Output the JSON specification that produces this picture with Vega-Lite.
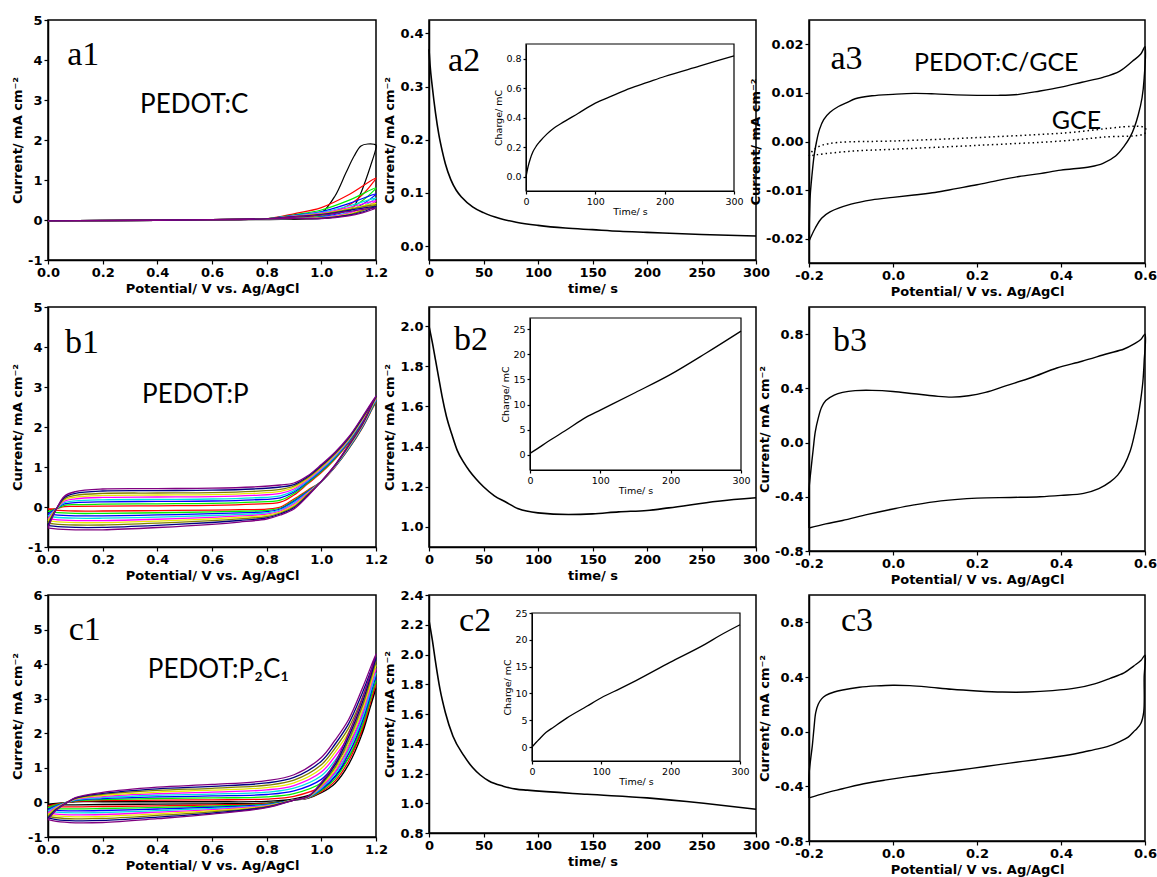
{
"$schema": "https://vega.github.io/schema/vega-lite/v6.json",
"background": "white",
"padding": {"left": 10, "top": 13, "right": 2, "bottom": 2},
"columns": 3,
"spacing": {"row": 44, "column": 53},
"bounds": "flush",
"align": "each",
"datasets": {
"a1": [
{"k":0,"x":0,"y":-0.02},{"k":0,"x":0.4,"y":-0.01},{"k":0,"x":0.7,"y":0.01},{"k":0,"x":0.8,"y":0.02},{"k":0,"x":0.9,"y":0.05},{"k":0,"x":0.95,"y":0.09},{"k":0,"x":1,"y":0.17},{"k":0,"x":1.05,"y":0.6},{"k":0,"x":1.09,"y":1.18},{"k":0,"x":1.12,"y":1.6},{"k":0,"x":1.145,"y":1.85},{"k":0,"x":1.17,"y":1.9},{"k":0,"x":1.2,"y":1.87},{"k":0,"x":1.2,"y":1.8},{"k":0,"x":1.18,"y":1.35},{"k":0,"x":1.16,"y":0.95},{"k":0,"x":1.14,"y":0.6},{"k":0,"x":1.12,"y":0.35},{"k":0,"x":1.1,"y":0.2},{"k":0,"x":1.05,"y":0.08},{"k":0,"x":1,"y":0.04},{"k":0,"x":0.8,"y":0.01},{"k":0,"x":0.4,"y":-0.01},{"k":0,"x":0,"y":-0.02},
{"k":1,"x":0,"y":-0.02},{"k":1,"x":0.4,"y":-0.01},{"k":1,"x":0.7,"y":0.01},{"k":1,"x":0.8,"y":0.03},{"k":1,"x":0.9,"y":0.155},{"k":1,"x":1,"y":0.31},{"k":1,"x":1.1,"y":0.63},{"k":1,"x":1.2,"y":1.05},{"k":1,"x":1.19,"y":0.945},{"k":1,"x":1.15,"y":0.63},{"k":1,"x":1.1,"y":0.37},{"k":1,"x":1,"y":0.126},{"k":1,"x":0.9,"y":0.04},{"k":1,"x":0.6,"y":0.01},{"k":1,"x":0,"y":-0.02},
{"k":2,"x":0,"y":-0.02},{"k":2,"x":0.4,"y":-0.01},{"k":2,"x":0.7,"y":0.01},{"k":2,"x":0.8,"y":0.03},{"k":2,"x":0.9,"y":0.13},{"k":2,"x":1,"y":0.25},{"k":2,"x":1.1,"y":0.49},{"k":2,"x":1.2,"y":0.8},{"k":2,"x":1.19,"y":0.72},{"k":2,"x":1.15,"y":0.48},{"k":2,"x":1.1,"y":0.28},{"k":2,"x":1,"y":0.096},{"k":2,"x":0.9,"y":0.04},{"k":2,"x":0.6,"y":0.01},{"k":2,"x":0,"y":-0.02},
{"k":3,"x":0,"y":-0.02},{"k":3,"x":0.4,"y":-0.01},{"k":3,"x":0.7,"y":0.01},{"k":3,"x":0.8,"y":0.03},{"k":3,"x":0.9,"y":0.115},{"k":3,"x":1,"y":0.21},{"k":3,"x":1.1,"y":0.41},{"k":3,"x":1.2,"y":0.65},{"k":3,"x":1.19,"y":0.585},{"k":3,"x":1.15,"y":0.39},{"k":3,"x":1.1,"y":0.23},{"k":3,"x":1,"y":0.078},{"k":3,"x":0.9,"y":0.04},{"k":3,"x":0.6,"y":0.01},{"k":3,"x":0,"y":-0.02},
{"k":4,"x":0,"y":-0.02},{"k":4,"x":0.4,"y":-0.01},{"k":4,"x":0.7,"y":0.01},{"k":4,"x":0.8,"y":0.03},{"k":4,"x":0.9,"y":0.105},{"k":4,"x":1,"y":0.19},{"k":4,"x":1.1,"y":0.35},{"k":4,"x":1.2,"y":0.55},{"k":4,"x":1.19,"y":0.5},{"k":4,"x":1.15,"y":0.33},{"k":4,"x":1.1,"y":0.19},{"k":4,"x":1,"y":0.066},{"k":4,"x":0.9,"y":0.04},{"k":4,"x":0.6,"y":0.01},{"k":4,"x":0,"y":-0.02},
{"k":5,"x":0,"y":-0.02},{"k":5,"x":0.4,"y":-0.01},{"k":5,"x":0.7,"y":0.01},{"k":5,"x":0.8,"y":0.03},{"k":5,"x":0.9,"y":0.098},{"k":5,"x":1,"y":0.17},{"k":5,"x":1.1,"y":0.31},{"k":5,"x":1.2,"y":0.48},{"k":5,"x":1.19,"y":0.43},{"k":5,"x":1.15,"y":0.29},{"k":5,"x":1.1,"y":0.17},{"k":5,"x":1,"y":0.058},{"k":5,"x":0.9,"y":0.04},{"k":5,"x":0.6,"y":0.01},{"k":5,"x":0,"y":-0.02},
{"k":6,"x":0,"y":-0.02},{"k":6,"x":0.4,"y":-0.01},{"k":6,"x":0.7,"y":0.01},{"k":6,"x":0.8,"y":0.03},{"k":6,"x":0.9,"y":0.092},{"k":6,"x":1,"y":0.155},{"k":6,"x":1.1,"y":0.28},{"k":6,"x":1.2,"y":0.42},{"k":6,"x":1.19,"y":0.38},{"k":6,"x":1.15,"y":0.25},{"k":6,"x":1.1,"y":0.15},{"k":6,"x":1,"y":0.05},{"k":6,"x":0.9,"y":0.04},{"k":6,"x":0.6,"y":0.01},{"k":6,"x":0,"y":-0.02},
{"k":7,"x":0,"y":-0.02},{"k":7,"x":0.4,"y":-0.01},{"k":7,"x":0.7,"y":0.01},{"k":7,"x":0.8,"y":0.03},{"k":7,"x":0.9,"y":0.088},{"k":7,"x":1,"y":0.145},{"k":7,"x":1.1,"y":0.26},{"k":7,"x":1.2,"y":0.38},{"k":7,"x":1.19,"y":0.34},{"k":7,"x":1.15,"y":0.23},{"k":7,"x":1.1,"y":0.13},{"k":7,"x":1,"y":0.046},{"k":7,"x":0.9,"y":0.04},{"k":7,"x":0.6,"y":0.01},{"k":7,"x":0,"y":-0.02},
{"k":8,"x":0,"y":-0.02},{"k":8,"x":0.4,"y":-0.01},{"k":8,"x":0.7,"y":0.01},{"k":8,"x":0.8,"y":0.03},{"k":8,"x":0.9,"y":0.084},{"k":8,"x":1,"y":0.135},{"k":8,"x":1.1,"y":0.24},{"k":8,"x":1.2,"y":0.34},{"k":8,"x":1.19,"y":0.31},{"k":8,"x":1.15,"y":0.2},{"k":8,"x":1.1,"y":0.12},{"k":8,"x":1,"y":0.041},{"k":8,"x":0.9,"y":0.04},{"k":8,"x":0.6,"y":0.01},{"k":8,"x":0,"y":-0.02},
{"k":9,"x":0,"y":-0.02},{"k":9,"x":0.4,"y":-0.01},{"k":9,"x":0.7,"y":0.01},{"k":9,"x":0.8,"y":0.03},{"k":9,"x":0.9,"y":0.08},{"k":9,"x":1,"y":0.125},{"k":9,"x":1.1,"y":0.215},{"k":9,"x":1.2,"y":0.3},{"k":9,"x":1.19,"y":0.27},{"k":9,"x":1.15,"y":0.18},{"k":9,"x":1.1,"y":0.105},{"k":9,"x":1,"y":0.036},{"k":9,"x":0.9,"y":0.04},{"k":9,"x":0.6,"y":0.01},{"k":9,"x":0,"y":-0.02}
],
"a2": [
{"x":0,"y":0.37},{"x":1,"y":0.34},{"x":3,"y":0.3},{"x":6,"y":0.25},{"x":9,"y":0.21},{"x":12,"y":0.18},{"x":15,"y":0.155},{"x":20,"y":0.125},{"x":25,"y":0.105},{"x":30,"y":0.092},{"x":40,"y":0.074},{"x":50,"y":0.063},{"x":65,"y":0.052},{"x":80,"y":0.045},{"x":100,"y":0.039},{"x":125,"y":0.034},{"x":150,"y":0.031},{"x":175,"y":0.028},{"x":200,"y":0.026},{"x":250,"y":0.022},{"x":300,"y":0.019}
],
"a2i": [
{"x":0,"y":0},{"x":3,"y":0.07},{"x":6,"y":0.12},{"x":10,"y":0.17},{"x":15,"y":0.21},{"x":20,"y":0.24},{"x":30,"y":0.29},{"x":40,"y":0.33},{"x":50,"y":0.36},{"x":75,"y":0.43},{"x":100,"y":0.5},{"x":125,"y":0.55},{"x":150,"y":0.6},{"x":175,"y":0.64},{"x":200,"y":0.68},{"x":250,"y":0.75},{"x":300,"y":0.82}
],
"a3s": [
{"x":-0.2,"y":-0.0205},{"x":-0.199,"y":-0.016},{"x":-0.197,"y":-0.011},{"x":-0.193,"y":-0.007},{"x":-0.188,"y":-0.003},{"x":-0.182,"y":0},{"x":-0.175,"y":0.0025},{"x":-0.165,"y":0.0045},{"x":-0.15,"y":0.006},{"x":-0.13,"y":0.0072},{"x":-0.11,"y":0.008},{"x":-0.09,"y":0.0088},{"x":-0.05,"y":0.0094},{"x":0,"y":0.0097},{"x":0.05,"y":0.0099},{"x":0.1,"y":0.0098},{"x":0.15,"y":0.0096},{"x":0.2,"y":0.0095},{"x":0.25,"y":0.0095},{"x":0.3,"y":0.0097},{"x":0.35,"y":0.0104},{"x":0.4,"y":0.0112},{"x":0.45,"y":0.0122},{"x":0.5,"y":0.0132},{"x":0.54,"y":0.0145},{"x":0.57,"y":0.0165},{"x":0.59,"y":0.018},{"x":0.6,"y":0.0195},
{"x":0.598,"y":0.013},{"x":0.593,"y":0.009},{"x":0.584,"y":0.0055},{"x":0.575,"y":0.003},{"x":0.565,"y":0.001},{"x":0.55,"y":-0.001},{"x":0.53,"y":-0.003},{"x":0.5,"y":-0.0045},{"x":0.47,"y":-0.0052},{"x":0.4,"y":-0.0059},{"x":0.35,"y":-0.0066},{"x":0.3,"y":-0.0072},{"x":0.25,"y":-0.008},{"x":0.2,"y":-0.0089},{"x":0.15,"y":-0.0097},{"x":0.1,"y":-0.0105},{"x":0.05,"y":-0.011},{"x":0,"y":-0.0115},{"x":-0.05,"y":-0.012},{"x":-0.1,"y":-0.0129},{"x":-0.15,"y":-0.0145},{"x":-0.17,"y":-0.0158},{"x":-0.185,"y":-0.0178},{"x":-0.2,"y":-0.0205}
],
"a3g": [
{"x":-0.2,"y":-0.003},{"x":-0.19,"y":-0.0018},{"x":-0.17,"y":-0.0008},{"x":-0.13,"y":-0.0002},{"x":0,"y":0.0001},{"x":0.2,"y":0.0008},{"x":0.4,"y":0.0017},{"x":0.6,"y":0.0028},{"x":0.6,"y":0.0017},{"x":0.5,"y":0.0009},{"x":0.4,"y":0.0001},{"x":0.2,"y":-0.0008},{"x":0,"y":-0.0016},{"x":-0.1,"y":-0.002},{"x":-0.18,"y":-0.0027},{"x":-0.2,"y":-0.003}
],
"b1": [
{"k":1,"x":0,"y":-0.05},{"k":1,"x":0.03,"y":-0.04},{"k":1,"x":0.06,"y":0.012},{"k":1,"x":0.1,"y":0.017},{"k":1,"x":0.2,"y":0.02},{"k":1,"x":0.4,"y":0.03},{"k":1,"x":0.6,"y":0.04},{"k":1,"x":0.75,"y":0.07},{"k":1,"x":0.85,"y":0.12},{"k":1,"x":0.9,"y":0.3},{"k":1,"x":0.95,"y":0.58},{"k":1,"x":1,"y":0.86},{"k":1,"x":1.05,"y":1.2},{"k":1,"x":1.1,"y":1.6},{"k":1,"x":1.15,"y":2.1},{"k":1,"x":1.2,"y":2.62},{"k":1,"x":1.19,"y":2.5},{"k":1,"x":1.15,"y":1.98},{"k":1,"x":1.1,"y":1.45},{"k":1,"x":1.05,"y":1},{"k":1,"x":1,"y":0.64},{"k":1,"x":0.95,"y":0.42},{"k":1,"x":0.9,"y":0.2},{"k":1,"x":0.85,"y":0},{"k":1,"x":0.8,"y":-0.053},{"k":1,"x":0.7,"y":-0.066},{"k":1,"x":0.6,"y":-0.076},{"k":1,"x":0.4,"y":-0.09},{"k":1,"x":0.2,"y":-0.1},{"k":1,"x":0.1,"y":-0.1},{"k":1,"x":0.02,"y":-0.07},{"k":1,"x":0,"y":-0.05},
{"k":2,"x":0,"y":-0.11},{"k":2,"x":0.03,"y":-0.045},{"k":2,"x":0.06,"y":0.042},{"k":2,"x":0.1,"y":0.06},{"k":2,"x":0.2,"y":0.07},{"k":2,"x":0.4,"y":0.08},{"k":2,"x":0.6,"y":0.09},{"k":2,"x":0.75,"y":0.12},{"k":2,"x":0.85,"y":0.17},{"k":2,"x":0.9,"y":0.34},{"k":2,"x":0.95,"y":0.605},{"k":2,"x":1,"y":0.885},{"k":2,"x":1.05,"y":1.22},{"k":2,"x":1.1,"y":1.62},{"k":2,"x":1.15,"y":2.12},{"k":2,"x":1.2,"y":2.64},{"k":2,"x":1.19,"y":2.52},{"k":2,"x":1.15,"y":1.99},{"k":2,"x":1.1,"y":1.46},{"k":2,"x":1.05,"y":1.01},{"k":2,"x":1,"y":0.64},{"k":2,"x":0.95,"y":0.4},{"k":2,"x":0.9,"y":0.17},{"k":2,"x":0.85,"y":-0.025},{"k":2,"x":0.8,"y":-0.085},{"k":2,"x":0.7,"y":-0.106},{"k":2,"x":0.6,"y":-0.122},{"k":2,"x":0.4,"y":-0.144},{"k":2,"x":0.2,"y":-0.16},{"k":2,"x":0.1,"y":-0.16},{"k":2,"x":0.02,"y":-0.13},{"k":2,"x":0,"y":-0.11},
{"k":3,"x":0,"y":-0.17},{"k":3,"x":0.03,"y":-0.045},{"k":3,"x":0.06,"y":0.078},{"k":3,"x":0.1,"y":0.11},{"k":3,"x":0.2,"y":0.13},{"k":3,"x":0.4,"y":0.14},{"k":3,"x":0.6,"y":0.15},{"k":3,"x":0.75,"y":0.18},{"k":3,"x":0.85,"y":0.23},{"k":3,"x":0.9,"y":0.375},{"k":3,"x":0.95,"y":0.63},{"k":3,"x":1,"y":0.91},{"k":3,"x":1.05,"y":1.24},{"k":3,"x":1.1,"y":1.64},{"k":3,"x":1.15,"y":2.14},{"k":3,"x":1.2,"y":2.66},{"k":3,"x":1.19,"y":2.54},{"k":3,"x":1.15,"y":2},{"k":3,"x":1.1,"y":1.47},{"k":3,"x":1.05,"y":1.01},{"k":3,"x":1,"y":0.64},{"k":3,"x":0.95,"y":0.38},{"k":3,"x":0.9,"y":0.14},{"k":3,"x":0.85,"y":-0.05},{"k":3,"x":0.8,"y":-0.117},{"k":3,"x":0.7,"y":-0.145},{"k":3,"x":0.6,"y":-0.167},{"k":3,"x":0.4,"y":-0.198},{"k":3,"x":0.2,"y":-0.22},{"k":3,"x":0.1,"y":-0.22},{"k":3,"x":0.02,"y":-0.19},{"k":3,"x":0,"y":-0.17},
{"k":4,"x":0,"y":-0.23},{"k":4,"x":0.03,"y":-0.05},{"k":4,"x":0.06,"y":0.108},{"k":4,"x":0.1,"y":0.153},{"k":4,"x":0.2,"y":0.18},{"k":4,"x":0.4,"y":0.19},{"k":4,"x":0.6,"y":0.2},{"k":4,"x":0.75,"y":0.23},{"k":4,"x":0.85,"y":0.28},{"k":4,"x":0.9,"y":0.41},{"k":4,"x":0.95,"y":0.655},{"k":4,"x":1,"y":0.935},{"k":4,"x":1.05,"y":1.26},{"k":4,"x":1.1,"y":1.66},{"k":4,"x":1.15,"y":2.16},{"k":4,"x":1.2,"y":2.68},{"k":4,"x":1.19,"y":2.56},{"k":4,"x":1.15,"y":2.02},{"k":4,"x":1.1,"y":1.49},{"k":4,"x":1.05,"y":1.02},{"k":4,"x":1,"y":0.64},{"k":4,"x":0.95,"y":0.36},{"k":4,"x":0.9,"y":0.11},{"k":4,"x":0.85,"y":-0.075},{"k":4,"x":0.8,"y":-0.148},{"k":4,"x":0.7,"y":-0.185},{"k":4,"x":0.6,"y":-0.213},{"k":4,"x":0.4,"y":-0.252},{"k":4,"x":0.2,"y":-0.28},{"k":4,"x":0.1,"y":-0.28},{"k":4,"x":0.02,"y":-0.25},{"k":4,"x":0,"y":-0.23},
{"k":5,"x":0,"y":-0.29},{"k":5,"x":0.03,"y":-0.05},{"k":5,"x":0.06,"y":0.144},{"k":5,"x":0.1,"y":0.204},{"k":5,"x":0.2,"y":0.24},{"k":5,"x":0.4,"y":0.25},{"k":5,"x":0.6,"y":0.26},{"k":5,"x":0.75,"y":0.29},{"k":5,"x":0.85,"y":0.34},{"k":5,"x":0.9,"y":0.45},{"k":5,"x":0.95,"y":0.68},{"k":5,"x":1,"y":0.96},{"k":5,"x":1.05,"y":1.29},{"k":5,"x":1.1,"y":1.68},{"k":5,"x":1.15,"y":2.18},{"k":5,"x":1.2,"y":2.7},{"k":5,"x":1.19,"y":2.58},{"k":5,"x":1.15,"y":2.03},{"k":5,"x":1.1,"y":1.5},{"k":5,"x":1.05,"y":1.03},{"k":5,"x":1,"y":0.64},{"k":5,"x":0.95,"y":0.35},{"k":5,"x":0.9,"y":0.075},{"k":5,"x":0.85,"y":-0.1},{"k":5,"x":0.8,"y":-0.18},{"k":5,"x":0.7,"y":-0.224},{"k":5,"x":0.6,"y":-0.258},{"k":5,"x":0.4,"y":-0.306},{"k":5,"x":0.2,"y":-0.34},{"k":5,"x":0.1,"y":-0.34},{"k":5,"x":0.02,"y":-0.31},{"k":5,"x":0,"y":-0.29},
{"k":6,"x":0,"y":-0.34},{"k":6,"x":0.03,"y":-0.05},{"k":6,"x":0.06,"y":0.174},{"k":6,"x":0.1,"y":0.247},{"k":6,"x":0.2,"y":0.29},{"k":6,"x":0.4,"y":0.3},{"k":6,"x":0.6,"y":0.31},{"k":6,"x":0.75,"y":0.34},{"k":6,"x":0.85,"y":0.39},{"k":6,"x":0.9,"y":0.49},{"k":6,"x":0.95,"y":0.705},{"k":6,"x":1,"y":0.985},{"k":6,"x":1.05,"y":1.31},{"k":6,"x":1.1,"y":1.69},{"k":6,"x":1.15,"y":2.19},{"k":6,"x":1.2,"y":2.72},{"k":6,"x":1.19,"y":2.59},{"k":6,"x":1.15,"y":2.04},{"k":6,"x":1.1,"y":1.51},{"k":6,"x":1.05,"y":1.03},{"k":6,"x":1,"y":0.64},{"k":6,"x":0.95,"y":0.33},{"k":6,"x":0.9,"y":0.045},{"k":6,"x":0.85,"y":-0.125},{"k":6,"x":0.8,"y":-0.207},{"k":6,"x":0.7,"y":-0.257},{"k":6,"x":0.6,"y":-0.296},{"k":6,"x":0.4,"y":-0.351},{"k":6,"x":0.2,"y":-0.39},{"k":6,"x":0.1,"y":-0.39},{"k":6,"x":0.02,"y":-0.36},{"k":6,"x":0,"y":-0.34},
{"k":7,"x":0,"y":-0.4},{"k":7,"x":0.03,"y":-0.055},{"k":7,"x":0.06,"y":0.204},{"k":7,"x":0.1,"y":0.289},{"k":7,"x":0.2,"y":0.34},{"k":7,"x":0.4,"y":0.35},{"k":7,"x":0.6,"y":0.36},{"k":7,"x":0.75,"y":0.39},{"k":7,"x":0.85,"y":0.44},{"k":7,"x":0.9,"y":0.525},{"k":7,"x":0.95,"y":0.73},{"k":7,"x":1,"y":1.01},{"k":7,"x":1.05,"y":1.33},{"k":7,"x":1.1,"y":1.71},{"k":7,"x":1.15,"y":2.21},{"k":7,"x":1.2,"y":2.74},{"k":7,"x":1.19,"y":2.61},{"k":7,"x":1.15,"y":2.06},{"k":7,"x":1.1,"y":1.53},{"k":7,"x":1.05,"y":1.04},{"k":7,"x":1,"y":0.64},{"k":7,"x":0.95,"y":0.31},{"k":7,"x":0.9,"y":0.01},{"k":7,"x":0.85,"y":-0.15},{"k":7,"x":0.8,"y":-0.239},{"k":7,"x":0.7,"y":-0.297},{"k":7,"x":0.6,"y":-0.342},{"k":7,"x":0.4,"y":-0.405},{"k":7,"x":0.2,"y":-0.45},{"k":7,"x":0.1,"y":-0.45},{"k":7,"x":0.02,"y":-0.42},{"k":7,"x":0,"y":-0.4},
{"k":8,"x":0,"y":-0.46},{"k":8,"x":0.03,"y":-0.055},{"k":8,"x":0.06,"y":0.24},{"k":8,"x":0.1,"y":0.34},{"k":8,"x":0.2,"y":0.4},{"k":8,"x":0.4,"y":0.41},{"k":8,"x":0.6,"y":0.42},{"k":8,"x":0.75,"y":0.45},{"k":8,"x":0.85,"y":0.5},{"k":8,"x":0.9,"y":0.56},{"k":8,"x":0.95,"y":0.755},{"k":8,"x":1,"y":1.035},{"k":8,"x":1.05,"y":1.35},{"k":8,"x":1.1,"y":1.73},{"k":8,"x":1.15,"y":2.23},{"k":8,"x":1.2,"y":2.76},{"k":8,"x":1.19,"y":2.63},{"k":8,"x":1.15,"y":2.07},{"k":8,"x":1.1,"y":1.54},{"k":8,"x":1.05,"y":1.04},{"k":8,"x":1,"y":0.64},{"k":8,"x":0.95,"y":0.29},{"k":8,"x":0.9,"y":-0.02},{"k":8,"x":0.85,"y":-0.175},{"k":8,"x":0.8,"y":-0.27},{"k":8,"x":0.7,"y":-0.337},{"k":8,"x":0.6,"y":-0.388},{"k":8,"x":0.4,"y":-0.459},{"k":8,"x":0.2,"y":-0.51},{"k":8,"x":0.1,"y":-0.51},{"k":8,"x":0.02,"y":-0.48},{"k":8,"x":0,"y":-0.46},
{"k":9,"x":0,"y":-0.52},{"k":9,"x":0.03,"y":-0.06},{"k":9,"x":0.06,"y":0.27},{"k":9,"x":0.1,"y":0.383},{"k":9,"x":0.2,"y":0.45},{"k":9,"x":0.4,"y":0.46},{"k":9,"x":0.6,"y":0.47},{"k":9,"x":0.75,"y":0.5},{"k":9,"x":0.85,"y":0.55},{"k":9,"x":0.9,"y":0.6},{"k":9,"x":0.95,"y":0.78},{"k":9,"x":1,"y":1.06},{"k":9,"x":1.05,"y":1.37},{"k":9,"x":1.1,"y":1.75},{"k":9,"x":1.15,"y":2.25},{"k":9,"x":1.2,"y":2.78},{"k":9,"x":1.19,"y":2.65},{"k":9,"x":1.15,"y":2.08},{"k":9,"x":1.1,"y":1.55},{"k":9,"x":1.05,"y":1.05},{"k":9,"x":1,"y":0.64},{"k":9,"x":0.95,"y":0.27},{"k":9,"x":0.9,"y":-0.05},{"k":9,"x":0.85,"y":-0.2},{"k":9,"x":0.8,"y":-0.3},{"k":9,"x":0.7,"y":-0.376},{"k":9,"x":0.6,"y":-0.433},{"k":9,"x":0.4,"y":-0.513},{"k":9,"x":0.2,"y":-0.57},{"k":9,"x":0.1,"y":-0.57},{"k":9,"x":0.02,"y":-0.54},{"k":9,"x":0,"y":-0.52}
],
"b2": [
{"x":0,"y":2},{"x":3,"y":1.92},{"x":6,"y":1.83},{"x":9,"y":1.74},{"x":12,"y":1.65},{"x":16,"y":1.55},{"x":21,"y":1.46},{"x":26,"y":1.38},{"x":32,"y":1.32},{"x":37,"y":1.28},{"x":43,"y":1.24},{"x":50,"y":1.2},{"x":60,"y":1.155},{"x":70,"y":1.125},{"x":82,"y":1.09},{"x":100,"y":1.07},{"x":128,"y":1.062},{"x":150,"y":1.065},{"x":174,"y":1.075},{"x":200,"y":1.082},{"x":220,"y":1.095},{"x":265,"y":1.128},{"x":300,"y":1.145}
],
"b2i": [
{"x":0,"y":0.3},{"x":10,"y":1.2},{"x":25,"y":2.6},{"x":50,"y":4.8},{"x":80,"y":7.5},{"x":100,"y":8.9},{"x":150,"y":12.4},{"x":200,"y":16},{"x":250,"y":20.2},{"x":300,"y":24.6}
],
"b3": [
{"x":-0.2,"y":-0.63},{"x":-0.2,"y":-0.35},{"x":-0.196,"y":-0.22},{"x":-0.19,"y":-0.05},{"x":-0.185,"y":0.08},{"x":-0.178,"y":0.18},{"x":-0.17,"y":0.26},{"x":-0.16,"y":0.31},{"x":-0.14,"y":0.35},{"x":-0.12,"y":0.37},{"x":-0.09,"y":0.383},{"x":-0.05,"y":0.385},{"x":0,"y":0.377},{"x":0.05,"y":0.36},{"x":0.1,"y":0.343},{"x":0.14,"y":0.335},{"x":0.18,"y":0.345},{"x":0.22,"y":0.37},{"x":0.27,"y":0.42},{"x":0.33,"y":0.48},{"x":0.39,"y":0.55},{"x":0.45,"y":0.6},{"x":0.51,"y":0.655},{"x":0.55,"y":0.69},{"x":0.575,"y":0.73},{"x":0.59,"y":0.76},{"x":0.6,"y":0.8},
{"x":0.598,"y":0.6},{"x":0.595,"y":0.45},{"x":0.59,"y":0.32},{"x":0.583,"y":0.18},{"x":0.575,"y":0.06},{"x":0.565,"y":-0.06},{"x":0.55,"y":-0.17},{"x":0.535,"y":-0.24},{"x":0.517,"y":-0.29},{"x":0.49,"y":-0.34},{"x":0.454,"y":-0.375},{"x":0.4,"y":-0.39},{"x":0.35,"y":-0.4},{"x":0.28,"y":-0.405},{"x":0.2,"y":-0.41},{"x":0.114,"y":-0.43},{"x":0.05,"y":-0.46},{"x":0,"y":-0.49},{"x":-0.06,"y":-0.53},{"x":-0.12,"y":-0.575},{"x":-0.16,"y":-0.6},{"x":-0.2,"y":-0.63}
],
"c1": [
{"k":0,"x":0,"y":-0.05},{"k":0,"x":0.03,"y":-0.03},{"k":0,"x":0.07,"y":0},{"k":0,"x":0.1,"y":0.02},{"k":0,"x":0.2,"y":0.02},{"k":0,"x":0.4,"y":0.02},{"k":0,"x":0.6,"y":0.02},{"k":0,"x":0.8,"y":0.03},{"k":0,"x":0.9,"y":0.1},{"k":0,"x":1,"y":0.35},{"k":0,"x":1.05,"y":0.75},{"k":0,"x":1.1,"y":1.3},{"k":0,"x":1.15,"y":2.1},{"k":0,"x":1.2,"y":3.3},{"k":0,"x":1.195,"y":3.2},{"k":0,"x":1.15,"y":2},{"k":0,"x":1.1,"y":1.1},{"k":0,"x":1.05,"y":0.55},{"k":0,"x":1,"y":0.28},{"k":0,"x":0.95,"y":0.12},{"k":0,"x":0.9,"y":0.07},{"k":0,"x":0.8,"y":-0.02},{"k":0,"x":0.6,"y":-0.04},{"k":0,"x":0.4,"y":-0.05},{"k":0,"x":0.2,"y":-0.06},{"k":0,"x":0.1,"y":-0.07},{"k":0,"x":0.03,"y":-0.07},{"k":0,"x":0,"y":-0.05},
{"k":1,"x":0,"y":-0.1},{"k":1,"x":0.03,"y":-0.052},{"k":1,"x":0.07,"y":0},{"k":1,"x":0.1,"y":0.033},{"k":1,"x":0.2,"y":0.05},{"k":1,"x":0.4,"y":0.067},{"k":1,"x":0.6,"y":0.076},{"k":1,"x":0.8,"y":0.097},{"k":1,"x":0.9,"y":0.178},{"k":1,"x":1,"y":0.456},{"k":1,"x":1.05,"y":0.867},{"k":1,"x":1.1,"y":1.422},{"k":1,"x":1.15,"y":2.233},{"k":1,"x":1.2,"y":3.41},{"k":1,"x":1.195,"y":3.31},{"k":1,"x":1.15,"y":2.11},{"k":1,"x":1.1,"y":1.2},{"k":1,"x":1.05,"y":0.617},{"k":1,"x":1,"y":0.313},{"k":1,"x":0.95,"y":0.126},{"k":1,"x":0.9,"y":0.07},{"k":1,"x":0.8,"y":-0.034},{"k":1,"x":0.6,"y":-0.073},{"k":1,"x":0.4,"y":-0.097},{"k":1,"x":0.2,"y":-0.118},{"k":1,"x":0.1,"y":-0.128},{"k":1,"x":0.03,"y":-0.123},{"k":1,"x":0,"y":-0.1},
{"k":2,"x":0,"y":-0.15},{"k":2,"x":0.03,"y":-0.074},{"k":2,"x":0.07,"y":0},{"k":2,"x":0.1,"y":0.047},{"k":2,"x":0.2,"y":0.08},{"k":2,"x":0.4,"y":0.113},{"k":2,"x":0.6,"y":0.131},{"k":2,"x":0.8,"y":0.163},{"k":2,"x":0.9,"y":0.256},{"k":2,"x":1,"y":0.561},{"k":2,"x":1.05,"y":0.983},{"k":2,"x":1.1,"y":1.544},{"k":2,"x":1.15,"y":2.367},{"k":2,"x":1.2,"y":3.52},{"k":2,"x":1.195,"y":3.41},{"k":2,"x":1.15,"y":2.22},{"k":2,"x":1.1,"y":1.3},{"k":2,"x":1.05,"y":0.683},{"k":2,"x":1,"y":0.347},{"k":2,"x":0.95,"y":0.131},{"k":2,"x":0.9,"y":0.07},{"k":2,"x":0.8,"y":-0.049},{"k":2,"x":0.6,"y":-0.107},{"k":2,"x":0.4,"y":-0.143},{"k":2,"x":0.2,"y":-0.176},{"k":2,"x":0.1,"y":-0.186},{"k":2,"x":0.03,"y":-0.177},{"k":2,"x":0,"y":-0.15},
{"k":3,"x":0,"y":-0.2},{"k":3,"x":0.03,"y":-0.097},{"k":3,"x":0.07,"y":0},{"k":3,"x":0.1,"y":0.06},{"k":3,"x":0.2,"y":0.11},{"k":3,"x":0.4,"y":0.16},{"k":3,"x":0.6,"y":0.187},{"k":3,"x":0.8,"y":0.23},{"k":3,"x":0.9,"y":0.333},{"k":3,"x":1,"y":0.667},{"k":3,"x":1.05,"y":1.1},{"k":3,"x":1.1,"y":1.667},{"k":3,"x":1.15,"y":2.5},{"k":3,"x":1.2,"y":3.63},{"k":3,"x":1.195,"y":3.52},{"k":3,"x":1.15,"y":2.33},{"k":3,"x":1.1,"y":1.4},{"k":3,"x":1.05,"y":0.75},{"k":3,"x":1,"y":0.38},{"k":3,"x":0.95,"y":0.137},{"k":3,"x":0.9,"y":0.07},{"k":3,"x":0.8,"y":-0.063},{"k":3,"x":0.6,"y":-0.14},{"k":3,"x":0.4,"y":-0.19},{"k":3,"x":0.2,"y":-0.233},{"k":3,"x":0.1,"y":-0.243},{"k":3,"x":0.03,"y":-0.23},{"k":3,"x":0,"y":-0.2},
{"k":4,"x":0,"y":-0.25},{"k":4,"x":0.03,"y":-0.119},{"k":4,"x":0.07,"y":0},{"k":4,"x":0.1,"y":0.073},{"k":4,"x":0.2,"y":0.14},{"k":4,"x":0.4,"y":0.207},{"k":4,"x":0.6,"y":0.242},{"k":4,"x":0.8,"y":0.297},{"k":4,"x":0.9,"y":0.411},{"k":4,"x":1,"y":0.772},{"k":4,"x":1.05,"y":1.217},{"k":4,"x":1.1,"y":1.789},{"k":4,"x":1.15,"y":2.633},{"k":4,"x":1.2,"y":3.74},{"k":4,"x":1.195,"y":3.62},{"k":4,"x":1.15,"y":2.44},{"k":4,"x":1.1,"y":1.5},{"k":4,"x":1.05,"y":0.817},{"k":4,"x":1,"y":0.413},{"k":4,"x":0.95,"y":0.142},{"k":4,"x":0.9,"y":0.07},{"k":4,"x":0.8,"y":-0.078},{"k":4,"x":0.6,"y":-0.173},{"k":4,"x":0.4,"y":-0.237},{"k":4,"x":0.2,"y":-0.291},{"k":4,"x":0.1,"y":-0.301},{"k":4,"x":0.03,"y":-0.283},{"k":4,"x":0,"y":-0.25},
{"k":5,"x":0,"y":-0.3},{"k":5,"x":0.03,"y":-0.141},{"k":5,"x":0.07,"y":0},{"k":5,"x":0.1,"y":0.087},{"k":5,"x":0.2,"y":0.17},{"k":5,"x":0.4,"y":0.253},{"k":5,"x":0.6,"y":0.298},{"k":5,"x":0.8,"y":0.363},{"k":5,"x":0.9,"y":0.489},{"k":5,"x":1,"y":0.878},{"k":5,"x":1.05,"y":1.333},{"k":5,"x":1.1,"y":1.911},{"k":5,"x":1.15,"y":2.767},{"k":5,"x":1.2,"y":3.86},{"k":5,"x":1.195,"y":3.73},{"k":5,"x":1.15,"y":2.56},{"k":5,"x":1.1,"y":1.6},{"k":5,"x":1.05,"y":0.883},{"k":5,"x":1,"y":0.447},{"k":5,"x":0.95,"y":0.148},{"k":5,"x":0.9,"y":0.07},{"k":5,"x":0.8,"y":-0.092},{"k":5,"x":0.6,"y":-0.207},{"k":5,"x":0.4,"y":-0.283},{"k":5,"x":0.2,"y":-0.349},{"k":5,"x":0.1,"y":-0.359},{"k":5,"x":0.03,"y":-0.337},{"k":5,"x":0,"y":-0.3},
{"k":6,"x":0,"y":-0.35},{"k":6,"x":0.03,"y":-0.163},{"k":6,"x":0.07,"y":0},{"k":6,"x":0.1,"y":0.1},{"k":6,"x":0.2,"y":0.2},{"k":6,"x":0.4,"y":0.3},{"k":6,"x":0.6,"y":0.353},{"k":6,"x":0.8,"y":0.43},{"k":6,"x":0.9,"y":0.567},{"k":6,"x":1,"y":0.983},{"k":6,"x":1.05,"y":1.45},{"k":6,"x":1.1,"y":2.033},{"k":6,"x":1.15,"y":2.9},{"k":6,"x":1.2,"y":3.97},{"k":6,"x":1.195,"y":3.83},{"k":6,"x":1.15,"y":2.67},{"k":6,"x":1.1,"y":1.7},{"k":6,"x":1.05,"y":0.95},{"k":6,"x":1,"y":0.48},{"k":6,"x":0.95,"y":0.153},{"k":6,"x":0.9,"y":0.07},{"k":6,"x":0.8,"y":-0.107},{"k":6,"x":0.6,"y":-0.24},{"k":6,"x":0.4,"y":-0.33},{"k":6,"x":0.2,"y":-0.407},{"k":6,"x":0.1,"y":-0.417},{"k":6,"x":0.03,"y":-0.39},{"k":6,"x":0,"y":-0.35},
{"k":7,"x":0,"y":-0.4},{"k":7,"x":0.03,"y":-0.186},{"k":7,"x":0.07,"y":0},{"k":7,"x":0.1,"y":0.113},{"k":7,"x":0.2,"y":0.23},{"k":7,"x":0.4,"y":0.347},{"k":7,"x":0.6,"y":0.409},{"k":7,"x":0.8,"y":0.497},{"k":7,"x":0.9,"y":0.644},{"k":7,"x":1,"y":1.089},{"k":7,"x":1.05,"y":1.567},{"k":7,"x":1.1,"y":2.156},{"k":7,"x":1.15,"y":3.033},{"k":7,"x":1.2,"y":4.08},{"k":7,"x":1.195,"y":3.94},{"k":7,"x":1.15,"y":2.78},{"k":7,"x":1.1,"y":1.8},{"k":7,"x":1.05,"y":1.017},{"k":7,"x":1,"y":0.513},{"k":7,"x":0.95,"y":0.159},{"k":7,"x":0.9,"y":0.07},{"k":7,"x":0.8,"y":-0.121},{"k":7,"x":0.6,"y":-0.273},{"k":7,"x":0.4,"y":-0.377},{"k":7,"x":0.2,"y":-0.464},{"k":7,"x":0.1,"y":-0.474},{"k":7,"x":0.03,"y":-0.443},{"k":7,"x":0,"y":-0.4},
{"k":8,"x":0,"y":-0.45},{"k":8,"x":0.03,"y":-0.208},{"k":8,"x":0.07,"y":0},{"k":8,"x":0.1,"y":0.127},{"k":8,"x":0.2,"y":0.26},{"k":8,"x":0.4,"y":0.393},{"k":8,"x":0.6,"y":0.464},{"k":8,"x":0.8,"y":0.563},{"k":8,"x":0.9,"y":0.722},{"k":8,"x":1,"y":1.194},{"k":8,"x":1.05,"y":1.683},{"k":8,"x":1.1,"y":2.278},{"k":8,"x":1.15,"y":3.167},{"k":8,"x":1.2,"y":4.19},{"k":8,"x":1.195,"y":4.04},{"k":8,"x":1.15,"y":2.89},{"k":8,"x":1.1,"y":1.9},{"k":8,"x":1.05,"y":1.083},{"k":8,"x":1,"y":0.547},{"k":8,"x":0.95,"y":0.164},{"k":8,"x":0.9,"y":0.07},{"k":8,"x":0.8,"y":-0.136},{"k":8,"x":0.6,"y":-0.307},{"k":8,"x":0.4,"y":-0.423},{"k":8,"x":0.2,"y":-0.522},{"k":8,"x":0.1,"y":-0.532},{"k":8,"x":0.03,"y":-0.497},{"k":8,"x":0,"y":-0.45},
{"k":9,"x":0,"y":-0.5},{"k":9,"x":0.03,"y":-0.23},{"k":9,"x":0.07,"y":0},{"k":9,"x":0.1,"y":0.14},{"k":9,"x":0.2,"y":0.29},{"k":9,"x":0.4,"y":0.44},{"k":9,"x":0.6,"y":0.52},{"k":9,"x":0.8,"y":0.63},{"k":9,"x":0.9,"y":0.8},{"k":9,"x":1,"y":1.3},{"k":9,"x":1.05,"y":1.8},{"k":9,"x":1.1,"y":2.4},{"k":9,"x":1.15,"y":3.3},{"k":9,"x":1.2,"y":4.3},{"k":9,"x":1.195,"y":4.15},{"k":9,"x":1.15,"y":3},{"k":9,"x":1.1,"y":2},{"k":9,"x":1.05,"y":1.15},{"k":9,"x":1,"y":0.58},{"k":9,"x":0.95,"y":0.17},{"k":9,"x":0.9,"y":0.07},{"k":9,"x":0.8,"y":-0.15},{"k":9,"x":0.6,"y":-0.34},{"k":9,"x":0.4,"y":-0.47},{"k":9,"x":0.2,"y":-0.58},{"k":9,"x":0.1,"y":-0.59},{"k":9,"x":0.03,"y":-0.55},{"k":9,"x":0,"y":-0.5}
],
"c2": [
{"x":0,"y":2.23},{"x":3,"y":2.1},{"x":6,"y":1.95},{"x":10,"y":1.77},{"x":15,"y":1.61},{"x":22,"y":1.45},{"x":32,"y":1.32},{"x":40,"y":1.24},{"x":47,"y":1.19},{"x":55,"y":1.15},{"x":68,"y":1.115},{"x":80,"y":1.095},{"x":90,"y":1.088},{"x":145,"y":1.06},{"x":200,"y":1.036},{"x":252,"y":1},{"x":300,"y":0.96}
],
"c2i": [
{"x":0,"y":0},{"x":10,"y":1.4},{"x":20,"y":2.7},{"x":31,"y":3.7},{"x":50,"y":5.4},{"x":79,"y":7.6},{"x":100,"y":9.2},{"x":127,"y":10.9},{"x":150,"y":12.4},{"x":199,"y":15.8},{"x":250,"y":19.2},{"x":271,"y":20.8},{"x":300,"y":22.8}
],
"c3": [
{"x":-0.2,"y":-0.485},{"x":-0.2,"y":-0.32},{"x":-0.196,"y":-0.2},{"x":-0.192,"y":-0.1},{"x":-0.188,"y":0.03},{"x":-0.184,"y":0.14},{"x":-0.178,"y":0.2},{"x":-0.17,"y":0.24},{"x":-0.16,"y":0.265},{"x":-0.14,"y":0.29},{"x":-0.12,"y":0.305},{"x":-0.08,"y":0.325},{"x":-0.04,"y":0.335},{"x":0,"y":0.34},{"x":0.04,"y":0.337},{"x":0.08,"y":0.328},{"x":0.14,"y":0.31},{"x":0.2,"y":0.298},{"x":0.26,"y":0.29},{"x":0.32,"y":0.29},{"x":0.38,"y":0.3},{"x":0.437,"y":0.32},{"x":0.48,"y":0.35},{"x":0.517,"y":0.39},{"x":0.55,"y":0.43},{"x":0.573,"y":0.48},{"x":0.59,"y":0.52},{"x":0.6,"y":0.56},
{"x":0.598,"y":0.4},{"x":0.597,"y":0.145},{"x":0.59,"y":0.06},{"x":0.58,"y":0.02},{"x":0.573,"y":0},{"x":0.56,"y":-0.04},{"x":0.54,"y":-0.073},{"x":0.51,"y":-0.11},{"x":0.477,"y":-0.133},{"x":0.44,"y":-0.158},{"x":0.398,"y":-0.18},{"x":0.34,"y":-0.205},{"x":0.278,"y":-0.23},{"x":0.22,"y":-0.255},{"x":0.159,"y":-0.28},{"x":0.1,"y":-0.303},{"x":0.04,"y":-0.327},{"x":-0.02,"y":-0.355},{"x":-0.08,"y":-0.388},{"x":-0.12,"y":-0.418},{"x":-0.16,"y":-0.448},{"x":-0.2,"y":-0.485}
]
},
"concat": [
{
"width": 328, "height": 240,
"layer": [
{"data": {"name": "a1"}, "mark": {"type": "line", "strokeWidth": 1.2, "interpolate": "catmull-rom"},
 "encoding": {
  "x": {"field": "x", "type": "quantitative", "scale": {"domain": [0, 1.2], "nice": false, "zero": false}, "axis": {"values": [0, 0.2, 0.4, 0.6, 0.8, 1, 1.2], "tickCount": 20, "format": ".1f", "title": "Potential/ V vs. Ag/AgCl"}},
  "y": {"field": "y", "type": "quantitative", "scale": {"domain": [-1, 5], "nice": false, "zero": false}, "axis": {"values": [-1, 0, 1, 2, 3, 4, 5], "tickCount": 20, "format": "d", "title": "Current/ mA cm⁻²"}},
  "color": {"field": "k", "type": "nominal", "scale": {"domain": [0,1,2,3,4,5,6,7,8,9], "range": ["#000000","#ff0000","#00ee00","#0000ff","#00e0e0","#ff00ff","#e8e800","#808000","#000080","#800080"]}, "legend": null},
  "order": {"value": null}}},
{"data": {"values": [{}]}, "mark": {"type": "text", "font": "Liberation Serif", "fontSize": 34, "align": "left", "baseline": "alphabetic"}, "encoding": {"x": {"datum": 0.07}, "y": {"datum": 3.87}, "text": {"value": "a1"}}},
{"data": {"values": [{}]}, "mark": {"type": "text", "font": "Lato", "fontSize": 26, "align": "left", "baseline": "alphabetic"}, "encoding": {"x": {"datum": 0.337}, "y": {"datum": 2.675}, "text": {"value": "PEDOT:C"}}}
]
},
{
"width": 327, "height": 240,
"layer": [
{"layer": [
 {"data": {"name": "a2"}, "mark": {"type": "line", "strokeWidth": 1.6, "color": "black", "interpolate": "monotone"},
  "encoding": {
   "x": {"field": "x", "type": "quantitative", "scale": {"domain": [0, 300], "nice": false, "zero": false}, "axis": {"values": [0, 50, 100, 150, 200, 250, 300], "tickCount": 20, "format": "d", "title": "time/ s"}},
   "y": {"field": "y", "type": "quantitative", "scale": {"domain": [-0.026, 0.425], "nice": false, "zero": false}, "axis": {"values": [0, 0.1, 0.2, 0.3, 0.4], "tickCount": 20, "format": ".1f", "title": "Current/ mA cm⁻²"}}}},
 {"data": {"values": [{}]}, "mark": {"type": "text", "font": "Liberation Serif", "fontSize": 34, "align": "left", "baseline": "alphabetic"}, "encoding": {"x": {"datum": 17.5}, "y": {"datum": 0.33}, "text": {"value": "a2"}}}
]},
{"layer": [
 {"data": {"values": [{}]}, "mark": {"type": "rect", "filled": false, "stroke": "black", "strokeWidth": 1.2},
  "encoding": {"x": {"datum": 0, "scale": {"domain": [0, 300], "range": [97, 305], "nice": false, "zero": false}}, "x2": {"datum": 300}, "y": {"datum": -0.095, "scale": {"domain": [-0.095, 0.9], "range": [171, 24], "nice": false, "zero": false}}, "y2": {"datum": 0.9}}},
 {"data": {"name": "a2i"}, "mark": {"type": "line", "strokeWidth": 1.3, "color": "black", "interpolate": "monotone"},
  "encoding": {
   "x": {"field": "x", "type": "quantitative", "scale": {"domain": [0, 300], "range": [97, 305], "nice": false, "zero": false}, "axis": {"orient": "bottom", "offset": -69, "values": [0, 100, 200, 300], "tickCount": 20, "format": "d", "title": "Time/ s", "labelFontSize": 9.5, "labelFontWeight": "normal", "titleFontSize": 9.5, "titleFontWeight": "normal", "tickSize": 3, "domainWidth": 1, "titlePadding": 1}},
   "y": {"field": "y", "type": "quantitative", "scale": {"domain": [-0.095, 0.9], "range": [171, 24], "nice": false, "zero": false}, "axis": {"orient": "left", "offset": -97, "values": [0, 0.2, 0.4, 0.6, 0.8], "tickCount": 20, "format": ".1f", "title": "Charge/ mC", "labelFontSize": 9.5, "labelFontWeight": "normal", "titleFontSize": 9.5, "titleFontWeight": "normal", "tickSize": 3, "domainWidth": 1, "titlePadding": 2}}}}
]}
],
"resolve": {"scale": {"x": "independent", "y": "independent"}, "axis": {"x": "independent", "y": "independent"}}
},
{
"width": 336, "height": 243,
"layer": [
{"data": {"name": "a3s"}, "mark": {"type": "line", "strokeWidth": 1.4, "color": "black", "interpolate": "catmull-rom"},
 "encoding": {
  "x": {"field": "x", "type": "quantitative", "scale": {"domain": [-0.2, 0.6], "nice": false, "zero": false}, "axis": {"values": [-0.2, 0, 0.2, 0.4, 0.6], "tickCount": 20, "format": ".1f", "title": "Potential/ V vs. Ag/AgCl"}},
  "y": {"field": "y", "type": "quantitative", "scale": {"domain": [-0.025, 0.025], "nice": false, "zero": false}, "axis": {"values": [-0.02, -0.01, 0, 0.01, 0.02], "tickCount": 20, "format": ".2f", "title": "Current/ mA cm⁻²"}},
  "order": {"value": null}}},
{"data": {"name": "a3g"}, "mark": {"type": "line", "strokeWidth": 1.5, "color": "black", "strokeDash": [1.5, 3], "interpolate": "catmull-rom"},
 "encoding": {
  "x": {"field": "x", "type": "quantitative", "title": "Potential/ V vs. Ag/AgCl"},
  "y": {"field": "y", "type": "quantitative", "title": "Current/ mA cm⁻²"},
  "order": {"value": null}}},
{"data": {"values": [{}]}, "mark": {"type": "text", "font": "Liberation Serif", "fontSize": 34, "align": "left", "baseline": "alphabetic"}, "encoding": {"x": {"datum": -0.149}, "y": {"datum": 0.0149}, "text": {"value": "a3"}}},
{"data": {"values": [{}]}, "mark": {"type": "text", "font": "Lato", "fontSize": 25, "align": "left", "baseline": "alphabetic"}, "encoding": {"x": {"datum": 0.05}, "y": {"datum": 0.0145}, "text": {"value": "PEDOT:C/GCE"}}},
{"data": {"values": [{}]}, "mark": {"type": "text", "font": "Lato", "fontSize": 25, "align": "left", "baseline": "alphabetic"}, "encoding": {"x": {"datum": 0.378}, "y": {"datum": 0.0025}, "text": {"value": "GCE"}}}
]
},
{
"width": 328, "height": 240,
"layer": [
{"data": {"name": "b1"}, "mark": {"type": "line", "strokeWidth": 1.3, "interpolate": "catmull-rom"},
 "encoding": {
  "x": {"field": "x", "type": "quantitative", "scale": {"domain": [0, 1.2], "nice": false, "zero": false}, "axis": {"values": [0, 0.2, 0.4, 0.6, 0.8, 1, 1.2], "tickCount": 20, "format": ".1f", "title": "Potential/ V vs. Ag/AgCl"}},
  "y": {"field": "y", "type": "quantitative", "scale": {"domain": [-1, 5], "nice": false, "zero": false}, "axis": {"values": [-1, 0, 1, 2, 3, 4, 5], "tickCount": 20, "format": "d", "title": "Current/ mA cm⁻²"}},
  "color": {"field": "k", "type": "nominal", "scale": {"domain": [0,1,2,3,4,5,6,7,8,9], "range": ["#000000","#ff0000","#00ee00","#0000ff","#00e0e0","#ff00ff","#e8e800","#808000","#000080","#800080"]}, "legend": null},
  "order": {"value": null}}},
{"data": {"values": [{}]}, "mark": {"type": "text", "font": "Liberation Serif", "fontSize": 34, "align": "left", "baseline": "alphabetic"}, "encoding": {"x": {"datum": 0.062}, "y": {"datum": 3.85}, "text": {"value": "b1"}}},
{"data": {"values": [{}]}, "mark": {"type": "text", "font": "Lato", "fontSize": 26, "align": "left", "baseline": "alphabetic"}, "encoding": {"x": {"datum": 0.344}, "y": {"datum": 2.6}, "text": {"value": "PEDOT:P"}}}
]
},
{
"width": 327, "height": 240,
"layer": [
{"layer": [
 {"data": {"name": "b2"}, "mark": {"type": "line", "strokeWidth": 1.6, "color": "black", "interpolate": "monotone"},
  "encoding": {
   "x": {"field": "x", "type": "quantitative", "scale": {"domain": [0, 300], "nice": false, "zero": false}, "axis": {"values": [0, 50, 100, 150, 200, 250, 300], "tickCount": 20, "format": "d", "title": "time/ s"}},
   "y": {"field": "y", "type": "quantitative", "scale": {"domain": [0.9, 2.095], "nice": false, "zero": false}, "axis": {"values": [1, 1.2, 1.4, 1.6, 1.8, 2], "tickCount": 20, "format": ".1f", "title": "Current/ mA cm⁻²"}}}},
 {"data": {"values": [{}]}, "mark": {"type": "text", "font": "Liberation Serif", "fontSize": 34, "align": "left", "baseline": "alphabetic"}, "encoding": {"x": {"datum": 23}, "y": {"datum": 1.88}, "text": {"value": "b2"}}}
]},
{"layer": [
 {"data": {"values": [{}]}, "mark": {"type": "rect", "filled": false, "stroke": "black", "strokeWidth": 1.2},
  "encoding": {"x": {"datum": 0, "scale": {"domain": [0, 300], "range": [101, 312], "nice": false, "zero": false}}, "x2": {"datum": 300}, "y": {"datum": -3, "scale": {"domain": [-3, 27.2], "range": [163, 11], "nice": false, "zero": false}}, "y2": {"datum": 27.2}}},
 {"data": {"name": "b2i"}, "mark": {"type": "line", "strokeWidth": 1.3, "color": "black", "interpolate": "monotone"},
  "encoding": {
   "x": {"field": "x", "type": "quantitative", "scale": {"domain": [0, 300], "range": [101, 312], "nice": false, "zero": false}, "axis": {"orient": "bottom", "offset": -77, "values": [0, 100, 200, 300], "tickCount": 20, "format": "d", "title": "Time/ s", "labelFontSize": 9.5, "labelFontWeight": "normal", "titleFontSize": 9.5, "titleFontWeight": "normal", "tickSize": 3, "domainWidth": 1, "titlePadding": 1}},
   "y": {"field": "y", "type": "quantitative", "scale": {"domain": [-3, 27.2], "range": [163, 11], "nice": false, "zero": false}, "axis": {"orient": "left", "offset": -101, "values": [0, 5, 10, 15, 20, 25], "tickCount": 20, "format": "d", "title": "Charge/ mC", "labelFontSize": 9.5, "labelFontWeight": "normal", "titleFontSize": 9.5, "titleFontWeight": "normal", "tickSize": 3, "domainWidth": 1, "titlePadding": 2}}}}
]}
],
"resolve": {"scale": {"x": "independent", "y": "independent"}, "axis": {"x": "independent", "y": "independent"}}
},
{
"width": 336, "height": 244,
"layer": [
{"data": {"name": "b3"}, "mark": {"type": "line", "strokeWidth": 1.4, "color": "black", "interpolate": "catmull-rom"},
 "encoding": {
  "x": {"field": "x", "type": "quantitative", "scale": {"domain": [-0.2, 0.6], "nice": false, "zero": false}, "axis": {"values": [-0.2, 0, 0.2, 0.4, 0.6], "tickCount": 20, "format": ".1f", "title": "Potential/ V vs. Ag/AgCl"}},
  "y": {"field": "y", "type": "quantitative", "scale": {"domain": [-0.8, 1.0], "nice": false, "zero": false}, "axis": {"values": [-0.8, -0.4, 0, 0.4, 0.8], "tickCount": 20, "format": ".1f", "title": "Current/ mA cm⁻²"}},
  "order": {"value": null}}},
{"data": {"values": [{}]}, "mark": {"type": "text", "font": "Liberation Serif", "fontSize": 34, "align": "left", "baseline": "alphabetic"}, "encoding": {"x": {"datum": -0.143}, "y": {"datum": 0.676}, "text": {"value": "b3"}}}
]
},
{
"width": 328, "height": 242,
"layer": [
{"data": {"name": "c1"}, "mark": {"type": "line", "strokeWidth": 1.3, "interpolate": "catmull-rom"},
 "encoding": {
  "x": {"field": "x", "type": "quantitative", "scale": {"domain": [0, 1.2], "nice": false, "zero": false}, "axis": {"values": [0, 0.2, 0.4, 0.6, 0.8, 1, 1.2], "tickCount": 20, "format": ".1f", "title": "Potential/ V vs. Ag/AgCl"}},
  "y": {"field": "y", "type": "quantitative", "scale": {"domain": [-1, 6], "nice": false, "zero": false}, "axis": {"values": [-1, 0, 1, 2, 3, 4, 5, 6], "tickCount": 20, "format": "d", "title": "Current/ mA cm⁻²"}},
  "color": {"field": "k", "type": "nominal", "scale": {"domain": [0,1,2,3,4,5,6,7,8,9], "range": ["#000000","#ff0000","#00ee00","#0000ff","#00e0e0","#ff00ff","#e8e800","#808000","#000080","#800080"]}, "legend": null},
  "order": {"value": null}}},
{"data": {"values": [{}]}, "mark": {"type": "text", "font": "Liberation Serif", "fontSize": 34, "align": "left", "baseline": "alphabetic"}, "encoding": {"x": {"datum": 0.076}, "y": {"datum": 4.7}, "text": {"value": "c1"}}},
{"data": {"values": [{}]}, "mark": {"type": "text", "font": "Lato", "fontSize": 26, "align": "left", "baseline": "alphabetic"}, "encoding": {"x": {"datum": 0.365}, "y": {"datum": 3.6}, "text": {"value": "PEDOT:P₂C₁"}}}
]
},
{
"width": 327, "height": 238,
"layer": [
{"layer": [
 {"data": {"name": "c2"}, "mark": {"type": "line", "strokeWidth": 1.6, "color": "black", "interpolate": "monotone"},
  "encoding": {
   "x": {"field": "x", "type": "quantitative", "scale": {"domain": [0, 300], "nice": false, "zero": false}, "axis": {"values": [0, 50, 100, 150, 200, 250, 300], "tickCount": 20, "format": "d", "title": "time/ s"}},
   "y": {"field": "y", "type": "quantitative", "scale": {"domain": [0.8, 2.4], "nice": false, "zero": false}, "axis": {"values": [0.8, 1, 1.2, 1.4, 1.6, 1.8, 2, 2.2, 2.4], "tickCount": 20, "format": ".1f", "title": "Current/ mA cm⁻²"}}}},
 {"data": {"values": [{}]}, "mark": {"type": "text", "font": "Liberation Serif", "fontSize": 34, "align": "left", "baseline": "alphabetic"}, "encoding": {"x": {"datum": 27.6}, "y": {"datum": 2.157}, "text": {"value": "c2"}}}
]},
{"layer": [
 {"data": {"values": [{}]}, "mark": {"type": "rect", "filled": false, "stroke": "black", "strokeWidth": 1.2},
  "encoding": {"x": {"datum": 0, "scale": {"domain": [0, 300], "range": [103, 311], "nice": false, "zero": false}}, "x2": {"datum": 300}, "y": {"datum": -2.6, "scale": {"domain": [-2.6, 25], "range": [166, 18], "nice": false, "zero": false}}, "y2": {"datum": 25}}},
 {"data": {"name": "c2i"}, "mark": {"type": "line", "strokeWidth": 1.3, "color": "black", "interpolate": "monotone"},
  "encoding": {
   "x": {"field": "x", "type": "quantitative", "scale": {"domain": [0, 300], "range": [103, 311], "nice": false, "zero": false}, "axis": {"orient": "bottom", "offset": -72, "values": [0, 100, 200, 300], "tickCount": 20, "format": "d", "title": "Time/ s", "labelFontSize": 9.5, "labelFontWeight": "normal", "titleFontSize": 9.5, "titleFontWeight": "normal", "tickSize": 3, "domainWidth": 1, "titlePadding": 1}},
   "y": {"field": "y", "type": "quantitative", "scale": {"domain": [-2.6, 25], "range": [166, 18], "nice": false, "zero": false}, "axis": {"orient": "left", "offset": -103, "values": [0, 5, 10, 15, 20, 25], "tickCount": 20, "format": "d", "title": "Charge/ mC", "labelFontSize": 9.5, "labelFontWeight": "normal", "titleFontSize": 9.5, "titleFontWeight": "normal", "tickSize": 3, "domainWidth": 1, "titlePadding": 2}}}}
]}
],
"resolve": {"scale": {"x": "independent", "y": "independent"}, "axis": {"x": "independent", "y": "independent"}}
},
{
"width": 336, "height": 246,
"layer": [
{"data": {"name": "c3"}, "mark": {"type": "line", "strokeWidth": 1.4, "color": "black", "interpolate": "catmull-rom"},
 "encoding": {
  "x": {"field": "x", "type": "quantitative", "scale": {"domain": [-0.2, 0.6], "nice": false, "zero": false}, "axis": {"values": [-0.2, 0, 0.2, 0.4, 0.6], "tickCount": 20, "format": ".1f", "title": "Potential/ V vs. Ag/AgCl"}},
  "y": {"field": "y", "type": "quantitative", "scale": {"domain": [-0.8, 1.0], "nice": false, "zero": false}, "axis": {"values": [-0.8, -0.4, 0, 0.4, 0.8], "tickCount": 20, "format": ".1f", "title": "Current/ mA cm⁻²"}},
  "order": {"value": null}}},
{"data": {"values": [{}]}, "mark": {"type": "text", "font": "Liberation Serif", "fontSize": 34, "align": "left", "baseline": "alphabetic"}, "encoding": {"x": {"datum": -0.124}, "y": {"datum": 0.735}, "text": {"value": "c3"}}}
]
}
],
"config": {
 "locale": {"number": {"decimal": ".", "thousands": ",", "grouping": [3], "currency": ["$", ""], "minus": "-"}},
 "font": "DejaVu Sans",
 "view": {"stroke": "black", "strokeWidth": 1.5},
 "text": {"color": "black"},
 "axis": {"grid": false, "tickCount": 20, "domainColor": "black", "domainWidth": 1.5, "tickColor": "black", "tickWidth": 1.2, "tickSize": 4, "labelColor": "black", "titleColor": "black", "labelFont": "DejaVu Sans", "titleFont": "DejaVu Sans", "labelFontSize": 13, "labelFontWeight": "bold", "titleFontSize": 13, "titleFontWeight": "bold", "labelPadding": 2, "titlePadding": 3, "labelOverlap": false, "labelFlush": false, "labelBound": false}
}
}
